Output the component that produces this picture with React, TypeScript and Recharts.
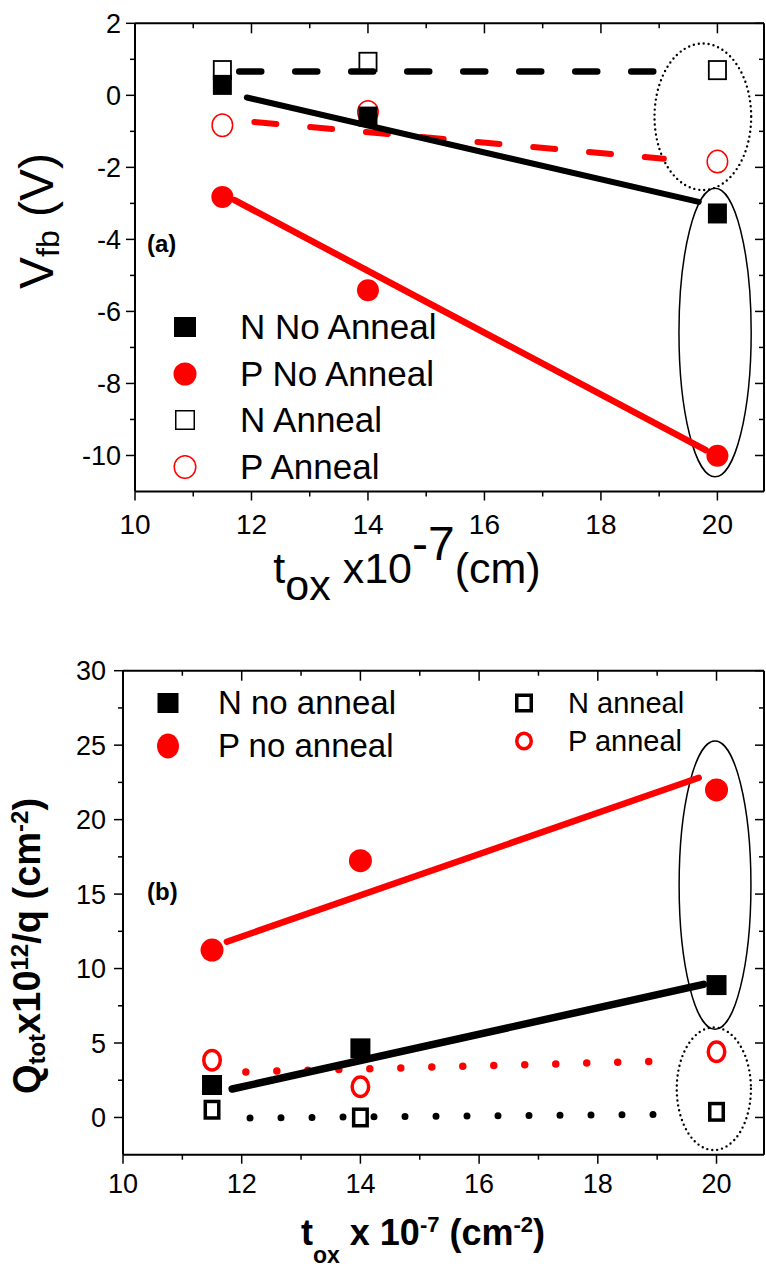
import React from "react";
import { Legend, ReferenceArea, Scatter, ScatterChart, XAxis, YAxis } from "recharts";

const FONT = '"Liberation Sans", Arial, Helvetica, sans-serif';
const RED = "#ff0000";

// oxide thickness, x10^-7 cm
const tox = [11.5, 14, 20];

// (a) flat band voltage, V
const vfbNNoAnneal = [0.29, -0.59, -3.28];
const vfbPNoAnneal = [-2.82, -5.41, -10.01];
const vfbNAnneal = [0.7, 0.93, 0.7];
const vfbPAnneal = [-0.83, -0.46, -1.84];

// (a) guide lines, end points as drawn
const vfbLineNNoAnnealX = [11.92, 19.68];
const vfbLineNNoAnnealY = [-0.06, -2.96];
const vfbLinePNoAnnealX = [11.71, 19.8];
const vfbLinePNoAnnealY = [-2.91, -9.85];
const vfbLineNAnnealX = [11.79, 18.92];
const vfbLineNAnnealY = [0.66, 0.66];
const vfbLinePAnnealX = [12.05, 19.08];
const vfbLinePAnnealY = [-0.74, -1.76];

// (b) Qtot x10^12/q, cm^-2
const qNNoAnneal = [2.18, 4.64, 8.89];
const qPNoAnneal = [11.24, 17.24, 21.99];
const qNAnneal = [0.52, 0.0, 0.38];
const qPAnneal = [3.85, 2.06, 4.41];

// (b) guide lines
const qLineNNoAnnealX = [11.84, 19.78];
const qLineNNoAnnealY = [1.91, 8.94];
const qLinePNoAnnealX = [11.75, 19.7];
const qLinePNoAnnealY = [11.8, 22.81];
const qLineNAnnealX = [12.14, 19.33];
const qLineNAnnealY = [-0.03, 0.22];
const qLinePAnnealX = [12.07, 19.28];
const qLinePAnnealY = [3.06, 3.8];

// circled groups at 20: x1, x2, y1, y2
const vfbRingAnneal = [18.92, 20.58, 1.44, -2.63];
const vfbRingNoAnneal = [19.34, 20.58, -2.58, -10.59];
const qRingNoAnneal = [19.37, 20.58, 25.28, 5.92];
const qRingAnneal = [19.33, 20.58, 6.05, -2.19];

// axes
const xTicks = [10, 11, 12, 13, 14, 15, 16, 17, 18, 19, 20];
const xTickLabels = [10, 12, 14, 16, 18, 20];
const vfbTicks = [-10, -9, -8, -7, -6, -5, -4, -3, -2, -1, 0, 1, 2];
const vfbTickLabels = [-10, -8, -6, -4, -2, 0, 2];
const qTicks = [0, 2.5, 5, 7.5, 10, 12.5, 15, 17.5, 20, 22.5, 25, 27.5, 30];
const qTickLabels = [0, 5, 10, 15, 20, 25, 30];

const legendA = ["N No Anneal", "P No Anneal", "N Anneal", "P Anneal"];
const legendB = ["N no anneal", "P no anneal", "N anneal", "P anneal"];

type Pt = { x: number; y: number };
const pts = (xs: number[], ys: number[]): Pt[] => xs.map((x, i) => ({ x, y: ys[i] }));

const square = (w: number, h: number, sw = 0) => (p: any) =>
  sw === 0 ? (
    <rect x={p.cx - w / 2} y={p.cy - h / 2} width={w} height={h} fill="#000" />
  ) : (
    <rect
      x={p.cx - w / 2 + sw / 2}
      y={p.cy - h / 2 + sw / 2}
      width={w - sw}
      height={h - sw}
      fill="none"
      stroke="#000"
      strokeWidth={sw}
    />
  );

const dot = (rx: number, ry: number, sw = 0) => (p: any) =>
  sw === 0 ? (
    <ellipse cx={p.cx} cy={p.cy} rx={rx} ry={ry} fill={RED} />
  ) : (
    <ellipse cx={p.cx} cy={p.cy} rx={rx - sw / 2} ry={ry - sw / 2} fill="none" stroke={RED} strokeWidth={sw} />
  );

const noDot = () => <g />;

const ring = (dotted: boolean) => (p: any) => {
  const w = Math.abs(p.width);
  const h = Math.abs(p.height);
  const x = Math.min(p.x, p.x + p.width);
  const y = Math.min(p.y, p.y + p.height);
  return (
    <ellipse
      cx={x + w / 2}
      cy={y + h / 2}
      rx={w / 2}
      ry={h / 2}
      fill="none"
      stroke="#000"
      strokeWidth={dotted ? 2.4 : 1.5}
      strokeDasharray={dotted ? "0 5" : undefined}
      strokeLinecap="round"
    />
  );
};

const bottomTick = (labels: number[], fontSize: number, labelOffset: number) => (props: any) => {
  const { x, y, payload } = props;
  const major = labels.includes(payload.value);
  return (
    <g>
      <line x1={x} x2={x} y1={y} y2={y + (major ? 9 : 5)} stroke="#000" strokeWidth={1.5} />
      {major && (
        <text x={x} y={y + labelOffset} textAnchor="middle" fontSize={fontSize} fontFamily={FONT} fill="#000">
          {payload.value}
        </text>
      )}
    </g>
  );
};

const topTick = (labels: number[]) => (props: any) => {
  const { x, y, payload } = props;
  const major = labels.includes(payload.value);
  return <line x1={x} x2={x} y1={y} y2={y + (major ? 10 : 5)} stroke="#000" strokeWidth={1.5} />;
};

const leftTick = (labels: number[], fontSize: number, labelOffset: number) => (props: any) => {
  const { x, y, payload } = props;
  const major = labels.includes(payload.value);
  return (
    <g>
      <line x1={x - (major ? 9 : 5)} x2={x} y1={y} y2={y} stroke="#000" strokeWidth={1.5} />
      {major && (
        <text
          x={x - labelOffset}
          y={y + fontSize * 0.36}
          textAnchor="end"
          fontSize={fontSize}
          fontFamily={FONT}
          fill="#000"
        >
          {payload.value}
        </text>
      )}
    </g>
  );
};

const rightTick = (labels: number[]) => (props: any) => {
  const { x, y, payload } = props;
  const major = labels.includes(payload.value);
  return <line x1={x - (major ? 9 : 5)} x2={x} y1={y} y2={y} stroke="#000" strokeWidth={1.5} />;
};

const axisLine = { stroke: "#000", strokeWidth: 2 };

// marker shapes per panel
const aSqFill = square(19, 20);
const aCircFill = dot(11, 11);
const aSqOpen = square(19, 20, 1.8);
const aCircOpen = dot(11, 12, 1.5);

const bSqFill = square(20, 20);
const bCircFill = dot(11.5, 11.5);
const bSqOpen = square(17, 20, 3.5);
const bCircOpen = dot(10, 11.5, 3.5);

const LegendMark: React.FC<{ shape: (p: any) => React.ReactElement; cx: number; cy: number }> = ({
  shape,
  cx,
  cy,
}) => (
  <svg
    width={30}
    height={30}
    style={{ position: "absolute", left: cx - 15, top: cy - 15, overflow: "visible" }}
  >
    {shape({ cx: 15, cy: 15 })}
  </svg>
);

const LegendText: React.FC<{ text: string; x: number; cy: number; size: number }> = ({ text, x, cy, size }) => (
  <div
    style={{
      position: "absolute",
      left: x,
      top: cy - size * 0.6,
      fontSize: size,
      lineHeight: `${size * 1.2}px`,
      fontFamily: FONT,
      color: "#000",
      whiteSpace: "nowrap",
    }}
  >
    {text}
  </div>
);

const LegendBoxA = () => {
  const shapes = [square(22, 20), dot(11.5, 11.5), square(20, 20, 1.5), dot(11.5, 12, 1.5)];
  const rows = [327, 373.5, 420, 466.5];
  return (
    <div style={{ position: "relative", width: 400, height: 200 }}>
      {legendA.map((label, i) => (
        <React.Fragment key={label}>
          <LegendMark shape={shapes[i]} cx={15} cy={rows[i] - 303} />
          <LegendText text={label} x={70} cy={rows[i] - 303} size={35} />
        </React.Fragment>
      ))}
    </div>
  );
};

const LegendBoxB = () => {
  const shapes = [square(21, 20), dot(11, 12.5), square(18, 19, 3.5), dot(9, 9.5, 3.5)];
  const cols = [
    { mx: 18, tx: 68, size: 33 },
    { mx: 374, tx: 418, size: 29 },
  ];
  const rows = [
    [73, 116],
    [73, 111],
  ];
  return (
    <div style={{ position: "relative", width: 600, height: 80 }}>
      {legendB.map((label, i) => {
        const c = Math.floor(i / 2);
        const cy = rows[c][i % 2] - 50;
        return (
          <React.Fragment key={label}>
            <LegendMark shape={shapes[i]} cx={cols[c].mx} cy={cy} />
            <LegendText text={label} x={cols[c].tx} cy={cy} size={cols[c].size} />
          </React.Fragment>
        );
      })}
    </div>
  );
};

const guide = (xs: number[], ys: number[], stroke: string, width: number, dash?: string) => (
  <Scatter
    data={pts(xs, ys)}
    shape={noDot}
    line={{ stroke, strokeWidth: width, strokeDasharray: dash, strokeLinecap: "round" }}
    lineType="joint"
    isAnimationActive={false}
    legendType="none"
  />
);

const PanelA = () => (
  <ScatterChart width={766} height={610} margin={{ top: 22.3, right: 1, bottom: 88.5, left: 75 }}>
    <XAxis
      type="number"
      dataKey="x"
      domain={[10, 20.8]}
      ticks={xTicks}
      interval={0}
      allowDataOverflow
      tickSize={0}
      tickMargin={0}
      tickLine={false}
      height={30}
      axisLine={axisLine}
      tick={bottomTick(xTickLabels, 28, 42)}
    />
    <XAxis
      xAxisId="top"
      orientation="top"
      type="number"
      dataKey="x"
      domain={[10, 20.8]}
      ticks={xTicks}
      interval={0}
      allowDataOverflow
      tickSize={0}
      tickMargin={0}
      tickLine={false}
      height={1}
      axisLine={axisLine}
      tick={topTick(xTickLabels)}
    />
    <YAxis
      type="number"
      dataKey="y"
      domain={[-11, 2]}
      ticks={vfbTicks}
      interval={0}
      allowDataOverflow
      tickSize={0}
      tickMargin={0}
      tickLine={false}
      width={60}
      axisLine={axisLine}
      tick={leftTick(vfbTickLabels, 27, 14)}
    />
    <YAxis
      yAxisId="right"
      orientation="right"
      type="number"
      dataKey="y"
      domain={[-11, 2]}
      ticks={vfbTicks}
      interval={0}
      allowDataOverflow
      tickSize={0}
      tickMargin={0}
      tickLine={false}
      width={1}
      axisLine={axisLine}
      tick={rightTick(vfbTickLabels)}
    />
    {guide(vfbLineNAnnealX, vfbLineNAnnealY, "#000", 6.5, "22 34")}
    {guide(vfbLinePAnnealX, vfbLinePAnnealY, RED, 6, "22 34")}
    {guide(vfbLineNNoAnnealX, vfbLineNNoAnnealY, "#000", 6)}
    {guide(vfbLinePNoAnnealX, vfbLinePNoAnnealY, RED, 6.5)}
    <Scatter name="P Anneal" data={pts(tox, vfbPAnneal)} shape={aCircOpen} isAnimationActive={false} />
    <Scatter name="N Anneal" data={pts(tox, vfbNAnneal)} shape={aSqOpen} isAnimationActive={false} />
    <Scatter name="P No Anneal" data={pts(tox, vfbPNoAnneal)} shape={aCircFill} isAnimationActive={false} />
    <Scatter name="N No Anneal" data={pts(tox, vfbNNoAnneal)} shape={aSqFill} isAnimationActive={false} />
    <ReferenceArea
      x1={vfbRingAnneal[0]}
      x2={vfbRingAnneal[1]}
      y1={vfbRingAnneal[2]}
      y2={vfbRingAnneal[3]}
      ifOverflow="visible"
      shape={ring(true)}
    />
    <ReferenceArea
      x1={vfbRingNoAnneal[0]}
      x2={vfbRingNoAnneal[1]}
      y1={vfbRingNoAnneal[2]}
      y2={vfbRingNoAnneal[3]}
      ifOverflow="visible"
      shape={ring(false)}
    />
    <Legend
      layout="vertical"
      verticalAlign="middle"
      align="center"
      wrapperStyle={{ left: 170, top: 303, width: 400, height: 200 }}
      content={() => <LegendBoxA />}
    />
  </ScatterChart>
);

const PanelB = () => (
  <ScatterChart width={766} height={639} margin={{ top: 39.7, right: 1, bottom: 84.3, left: 63 }}>
    <XAxis
      type="number"
      dataKey="x"
      domain={[10, 20.8]}
      ticks={xTicks}
      interval={0}
      allowDataOverflow
      tickSize={0}
      tickMargin={0}
      tickLine={false}
      height={30}
      axisLine={axisLine}
      tick={bottomTick(xTickLabels, 27, 38.5)}
    />
    <XAxis
      xAxisId="top"
      orientation="top"
      type="number"
      dataKey="x"
      domain={[10, 20.8]}
      ticks={xTicks}
      interval={0}
      allowDataOverflow
      tickSize={0}
      tickMargin={0}
      tickLine={false}
      height={1}
      axisLine={axisLine}
      tick={topTick(xTickLabels)}
    />
    <YAxis
      type="number"
      dataKey="y"
      domain={[-2.5, 30]}
      ticks={qTicks}
      interval={0}
      allowDataOverflow
      tickSize={0}
      tickMargin={0}
      tickLine={false}
      width={60}
      axisLine={axisLine}
      tick={leftTick(qTickLabels, 27, 17)}
    />
    <YAxis
      yAxisId="right"
      orientation="right"
      type="number"
      dataKey="y"
      domain={[-2.5, 30]}
      ticks={qTicks}
      interval={0}
      allowDataOverflow
      tickSize={0}
      tickMargin={0}
      tickLine={false}
      width={1}
      axisLine={axisLine}
      tick={rightTick(qTickLabels)}
    />
    {guide(qLinePAnnealX, qLinePAnnealY, RED, 7.5, "0 31")}
    {guide(qLineNAnnealX, qLineNAnnealY, "#000", 7, "0 31")}
    {guide(qLinePNoAnnealX, qLinePNoAnnealY, RED, 6.5)}
    {guide(qLineNNoAnnealX, qLineNNoAnnealY, "#000", 7.5)}
    <Scatter name="P anneal" data={pts(tox, qPAnneal)} shape={bCircOpen} isAnimationActive={false} />
    <Scatter name="N anneal" data={pts(tox, qNAnneal)} shape={bSqOpen} isAnimationActive={false} />
    <Scatter name="P no anneal" data={pts(tox, qPNoAnneal)} shape={bCircFill} isAnimationActive={false} />
    <Scatter name="N no anneal" data={pts(tox, qNNoAnneal)} shape={bSqFill} isAnimationActive={false} />
    <ReferenceArea
      x1={qRingNoAnneal[0]}
      x2={qRingNoAnneal[1]}
      y1={qRingNoAnneal[2]}
      y2={qRingNoAnneal[3]}
      ifOverflow="visible"
      shape={ring(false)}
    />
    <ReferenceArea
      x1={qRingAnneal[0]}
      x2={qRingAnneal[1]}
      y1={qRingAnneal[2]}
      y2={qRingAnneal[3]}
      ifOverflow="visible"
      shape={ring(true)}
    />
    <Legend
      layout="vertical"
      verticalAlign="middle"
      align="center"
      wrapperStyle={{ left: 150, top: 50, width: 600, height: 80 }}
      content={() => <LegendBoxB />}
    />
  </ScatterChart>
);

export default function App() {
  return (
    <div
      style={{
        position: "absolute",
        left: 0,
        top: 0,
        width: 766,
        height: 1269,
        background: "#fff",
        overflow: "hidden",
        fontFamily: FONT,
      }}
    >
      <div style={{ position: "absolute", left: 0, top: 0 }}>
        <PanelA />
      </div>
      <div style={{ position: "absolute", left: 0, top: 630 }}>
        <PanelB />
      </div>
      <svg
        width={766}
        height={1269}
        style={{ position: "absolute", left: 0, top: 0, pointerEvents: "none" }}
        fontFamily={FONT}
      >
        <text x={53} y={221} transform="rotate(-90 53 221)" textAnchor="middle" fontSize={48} fill="#000">
          V
          <tspan fontSize={32} dy={6}>
            fb
          </tspan>
          <tspan dy={-6}> (V)</tspan>
        </text>
        <text x={407} y={583} textAnchor="middle" fontSize={43} fill="#000">
          t<tspan dy={17}>ox</tspan>
          <tspan dy={-17}> x10</tspan>
          <tspan fontSize={48} dy={-23}>
            -7
          </tspan>
          <tspan dy={23}>(cm)</tspan>
        </text>
        <text x={147} y={252} fontSize={24} fontWeight="bold" fill="#000">
          (a)
        </text>

        <text
          x={40}
          y={946}
          transform="rotate(-90 40 946)"
          textAnchor="middle"
          fontSize={38}
          fontWeight="bold"
          fill="#000"
        >
          Q
          <tspan fontSize={24} dy={5}>
            tot
          </tspan>
          <tspan dy={-5}>x10</tspan>
          <tspan fontSize={24} dy={-12}>
            12
          </tspan>
          <tspan dy={12}>/q (cm</tspan>
          <tspan fontSize={24} dy={-12}>
            -2
          </tspan>
          <tspan dy={12}>)</tspan>
        </text>
        <text x={423} y={1245} textAnchor="middle" fontSize={36} fontWeight="bold" fill="#000">
          t
          <tspan fontSize={23} dy={18}>
            ox
          </tspan>
          <tspan dy={-18}> x 10</tspan>
          <tspan fontSize={22} dy={-13}>
            -7
          </tspan>
          <tspan dy={13}> (cm</tspan>
          <tspan fontSize={22} dy={-13}>
            -2
          </tspan>
          <tspan dy={13}>)</tspan>
        </text>
        <text x={147} y={900} fontSize={24} fontWeight="bold" fill="#000">
          (b)
        </text>
      </svg>
    </div>
  );
}
